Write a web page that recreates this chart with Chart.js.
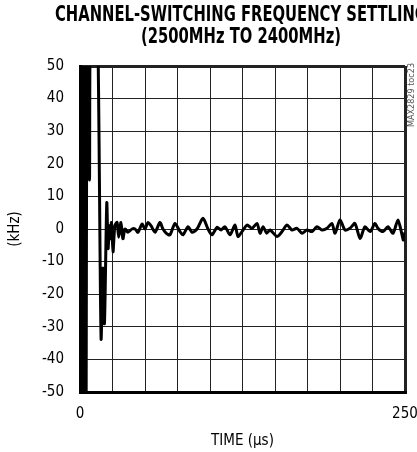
<!DOCTYPE html>
<html>
<head>
<meta charset="utf-8">
<script src="https://cdn.jsdelivr.net/npm/chart.js@4.4.1/dist/chart.umd.min.js"></script>
<style>
  html, body { margin: 0; padding: 0; background: #fff; }
  #wrap { width: 417px; height: 452px; overflow: hidden; }
</style>
</head>
<body>
<div id="wrap"><canvas id="settleChart" width="417" height="452"></canvas></div>
<script>
// time axis (us) and frequency error (kHz)
const timeUs = [
  0, 0.8, 1.5, 2.3, 3.1, 3.8, 4.6, 5.4, 6.2, 7.3, 8.5, 12.8, 16.2, 17.6, 18.8,
  20.6, 21.6, 22.6, 23.4, 24.2, 25.4, 26.8, 28.5, 29.8, 31.5, 33, 34.6, 36.9,
  40, 42.3, 44.6, 47.7, 50, 52.3, 54.6, 57.7, 61.5, 63.8, 66.9,
  69.2, 73.1, 76.9, 79.2, 83.1, 86.2, 90, 94.6, 98.5, 101.5, 105.4, 108.5,
  111.5, 115.4, 119.2, 121.5, 124.6, 128.5, 132.3, 136.2, 138.5, 140.8, 143.6,
  146.2, 151.5, 155.4, 159.2, 163.1, 166.9, 170.8, 174.6, 178.5, 182.3, 186.2,
  190, 193.8, 196.2, 200, 203.8, 207.7, 211.5, 215.4, 219.2, 223.1, 226.9,
  229.2, 233.1, 236.9, 240.8, 244.6, 247.7, 248.8, 250
];
const freqKHz = [
  -80, 80, -80, 80, -80, 80, -80, 80, 80, 15, 80, 80, -33.5, -12, -29,
  8, -6, 1, -3, 2, -7, 1, 2, -2.5, 2, -3, 0, -1,
  0, 0, -1, 1.5, 0, 2, 1, -1, 2, 0, -1.5,
  -1.8, 1.7, -0.8, -1.8, 0.7, -1, 0, 3.3, 0, -1.8, 0.5, -0.3,
  0.7, -1.8, 1.2, -2.3, -0.8, 1.2, 0.2, 1.7, -1.3, 0.7, -1.3,
  -0.3, -2.3, -0.8, 1.2, -0.3, 0.2, -1.3, -0.3, -0.8, 0.7, -0.3,
  0.2, 1.7, -1.3, 2.8, -0.3, 0.2, 1.7, -2.9, 0.7, -0.8, 1.7,
  0.2, -0.8, 0.7, -1.3, 2.8, -1.8, -3.4, -1
];
const xTickLabels = [0, 250];
const yTicks = [-50, -40, -30, -20, -10, 0, 10, 20, 30, 40, 50];
const titleLines = ['CHANNEL-SWITCHING FREQUENCY SETTLING', '(2500MHz TO 2400MHz)'];

const narrow = "'Liberation Sans Narrow', 'DejaVu Sans Condensed', 'Arial Narrow', sans-serif";

const points = timeUs.map((t, i) => ({ x: t, y: freqKHz[i] }));

// title + part number drawn on the canvas
const titlePlugin = {
  id: 'titleText',
  afterDraw(chart) {
    const ctx = chart.ctx;
    ctx.save();
    ctx.fillStyle = '#000';
    ctx.textAlign = 'center';
    ctx.textBaseline = 'middle';
    ctx.font = 'bold 21px ' + narrow;
    // squeeze horizontally so the first line is ~372px wide (condensed look)
    const sx = 372 / ctx.measureText(titleLines[0]).width;
    ctx.save();
    ctx.translate(241, 0);
    ctx.scale(sx, 1);
    ctx.fillText(titleLines[0], 0, 16);
    ctx.fillText(titleLines[1], 0, 38);
    ctx.restore();
    // small vertical tag at right
    ctx.translate(412, 95);
    ctx.rotate(-Math.PI / 2);
    ctx.font = '9px ' + narrow;
    ctx.fillStyle = '#555';
    ctx.fillText('MAX2829 toc23', 0, 0);
    ctx.restore();
  }
};

const edge = (v, a, b) => (v === a || v === b) ? 3 : 1;

new Chart(document.getElementById('settleChart'), {
  type: 'line',
  plugins: [titlePlugin],
  data: {
    datasets: [{
      data: points,
      borderColor: '#000',
      borderWidth: 3,
      pointRadius: 0,
      tension: 0.25,
      fill: false
    }]
  },
  options: {
    responsive: false,
    animation: false,
    layout: { autoPadding: false, padding: { top: 66, right: 12, left: 0, bottom: 0 } },
    plugins: { legend: { display: false }, tooltip: { enabled: false } },
    scales: {
      x: {
        type: 'linear',
        min: 0,
        max: 250,
        afterBuildTicks(axis) {
          axis.ticks = [];
          for (let v = 0; v <= 250; v += 25) axis.ticks.push({ value: v });
        },
        afterFit(axis) {
          axis.height = 60;
          axis.paddingLeft = 0;   // don't let the 250 label shrink the plot
          axis.paddingRight = 0;
        },
        ticks: {
          autoSkip: false,
          maxRotation: 0,
          padding: 13,
          color: '#000',
          font: { family: narrow, size: 15 },
          callback: v => xTickLabels.includes(v) ? String(v) : ''
        },
        grid: {
          color: '#222',
          drawTicks: false,
          lineWidth: c => edge(c.tick && c.tick.value, 0, 250)
        },
        border: { display: true, color: '#000', width: 3 },
        title: {
          display: true,
          text: 'TIME (µs)',
          color: '#000',
          font: { family: narrow, size: 15 },
          padding: { top: 4, bottom: 2 }
        }
      },
      y: {
        min: -50,
        max: 50,
        afterBuildTicks(axis) {
          axis.ticks = yTicks.map(v => ({ value: v }));
        },
        afterFit(axis) { axis.width = 80; },
        ticks: {
          padding: 16,
          color: '#000',
          font: { family: narrow, size: 15 }
        },
        grid: {
          color: '#222',
          drawTicks: false,
          lineWidth: c => edge(c.tick && c.tick.value, -50, 50)
        },
        border: { display: true, color: '#000', width: 3 },
        title: {
          display: true,
          text: '(kHz)',
          color: '#000',
          font: { family: narrow, size: 15 },
          padding: { top: 6, bottom: 4 }
        }
      }
    }
  }
});
</script>
</body>
</html>
